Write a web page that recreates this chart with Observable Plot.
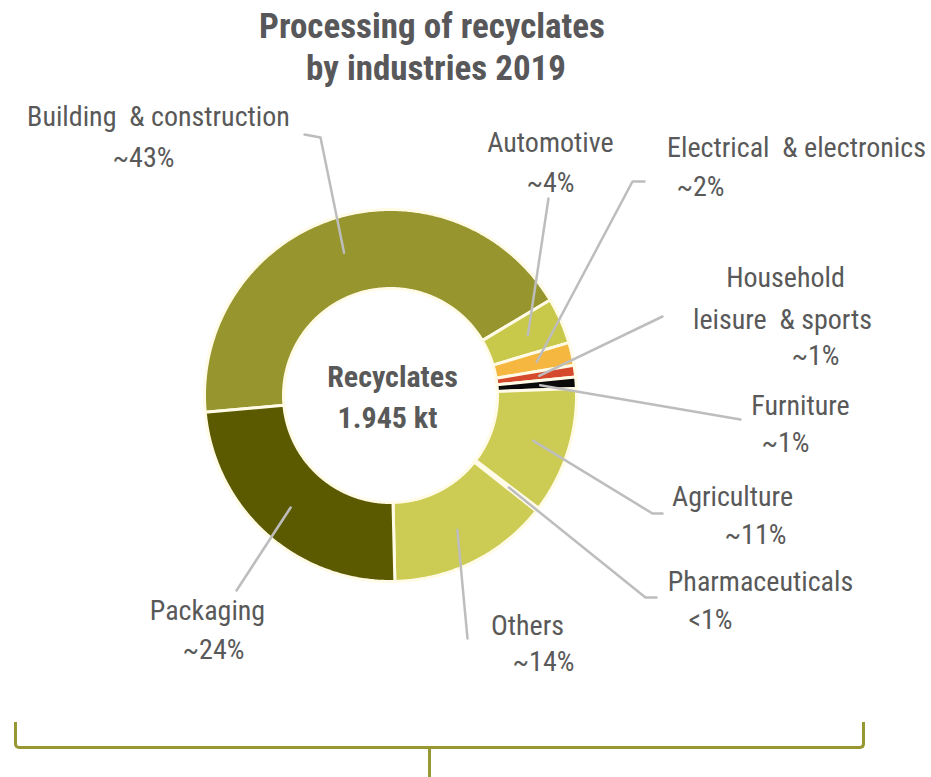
<!DOCTYPE html>
<html>
<head>
<meta charset="utf-8">
<script src="https://cdn.jsdelivr.net/npm/d3@7"></script>
<script src="https://cdn.jsdelivr.net/npm/@observablehq/plot@0.6"></script>
<style>
  html, body { margin: 0; padding: 0; background: #fff; }
  #wrap { position: relative; width: 931px; height: 777px; overflow: hidden; font-family: "Liberation Sans Narrow", "Arial Narrow", "Roboto Condensed", sans-serif; }
  #title { position: absolute; left: 0; top: 6px; width: 864px; text-align: center; font-size: 35px; font-weight: bold; line-height: 42px; color: #58585a; }
  #chart { position: absolute; left: 0; top: 92px; }
  #bracket { position: absolute; left: 14px; top: 722px; width: 845px; height: 24px; border: 3px solid #989832; border-top: none; border-radius: 0 0 5px 5px; }
  #stem { position: absolute; left: 428px; top: 749px; width: 3px; height: 28px; background: #989832; }
</style>
</head>
<body>
<div id="wrap">
  <div id="title">Processing of recyclates<br>&nbsp;by industries 2019</div>
  <div id="chart"></div>
  <div id="bracket"></div>
  <div id="stem"></div>
</div>
<script>
// ---- data ----
const categories = ["Building & construction", "Automotive", "Electrical & electronics", "Household leisure & sports", "Furniture", "Agriculture", "Pharmaceuticals", "Others", "Packaging"];
const shares = [43, 4, 2, 1, 1, 11, 0.3, 14, 24];
const shareLabels = ["~43%", "~4%", "~2%", "~1%", "~1%", "~11%", "<1%", "~14%", "~24%"];
const nameLines = [["Building  & construction"], ["Automotive"], ["Electrical  & electronics"], ["Household", "leisure  & sports"], ["Furniture"], ["Agriculture"], ["Pharmaceuticals"], ["Others"], ["Packaging"]];
const colors = ["#97952e", "#c8c84a", "#f5b73f", "#d54a2c", "#0a0a0a", "#cccc55", "#f6f4e0", "#cccc55", "#5c5a00"];
const centerLines = ["Recyclates", "1.945 kt"];

// ---- layout (page pixel positions; center of donut at 390,395) ----
const CX = 390, CY = 395, R_OUT = 186, R_IN = 107, R_LEAD = 150;
const START_ANGLE = 264.8;
const labelPos = [
  [[158, 117], [143, 158]],
  [[550, 143], [550, 183]],
  [[796, 148], [700, 187]],
  [[785, 278], [782, 320], [815, 356]],
  [[800, 406], [785, 443]],
  [[732, 497], [755, 535]],
  [[760, 582], [710, 620]],
  [[527, 626], [543, 662]],
  [[207, 611], [213, 650]]
];
const leaderEnds = [
  [[320, 137], [304, 134]],
  [[548, 198]],
  [[632, 181], [644, 181]],
  [[662, 316]],
  [[740, 419]],
  [[652, 513], [662, 513]],
  [[645, 597], [656, 597]],
  [[467, 638]],
  [[236, 590]]
];
const centerPos = [[392, 377], [387, 418]];

// ---- build geometry from data ----
const total = d3.sum(shares);
const toX = px => px - CX, toY = py => CY - py;
const rad = a => a * Math.PI / 180;
let acc = START_ANGLE;
const slices = categories.map((c, i) => {
  const a0 = acc, a1 = acc + shares[i] / total * 360;
  acc = a1;
  return {c, i, a0, a1, mid: (a0 + a1) / 2};
});
const ringPts = [];
for (const s of slices) {
  const n = Math.max(2, Math.ceil((s.a1 - s.a0) / 0.5));
  const pts = [];
  for (let k = 0; k <= n; k++) { const a = s.a0 + (s.a1 - s.a0) * k / n; pts.push([R_OUT * Math.sin(rad(a)), R_OUT * Math.cos(rad(a))]); }
  for (let k = n; k >= 0; k--) { const a = s.a0 + (s.a1 - s.a0) * k / n; pts.push([R_IN * Math.sin(rad(a)), R_IN * Math.cos(rad(a))]); }
  pts.push(pts[0]);
  for (const p of pts) ringPts.push({cat: s.c, x: p[0], y: p[1], color: colors[s.i]});
}
const leaderPts = [];
slices.forEach((s, i) => {
  leaderPts.push({cat: s.c, x: R_LEAD * Math.sin(rad(s.mid)), y: R_LEAD * Math.cos(rad(s.mid))});
  for (const p of leaderEnds[i]) leaderPts.push({cat: s.c, x: toX(p[0]), y: toY(p[1])});
});
const labelRows = [];
categories.forEach((c, i) => {
  const lines = [...nameLines[i], shareLabels[i]];
  lines.forEach((t, j) => labelRows.push({text: t, x: toX(labelPos[i][j][0]), y: toY(labelPos[i][j][1])}));
});
const centerRows = centerLines.map((t, j) => ({text: t, x: toX(centerPos[j][0]), y: toY(centerPos[j][1])}));

const FONT = "Liberation Sans Narrow, Arial Narrow, Roboto Condensed, sans-serif";
const H = 625;
const chart = Plot.plot({
  width: 931, height: H, margin: 0,
  x: {domain: [-CX, 931 - CX], range: [0, 931], axis: null},
  y: {domain: [-(717 - CY), CY - 92], range: [H, 0], axis: null},
  style: {background: "transparent", overflow: "visible"},
  marks: [
    Plot.line(ringPts, {x: "x", y: "y", z: "cat", fill: "color", stroke: "#fffbe6", strokeWidth: 3, strokeLinejoin: "round"}),
    Plot.line(leaderPts, {x: "x", y: "y", z: "cat", stroke: "#bdbdbd", strokeWidth: 2.5}),
    Plot.text(labelRows, {x: "x", y: "y", text: "text", fontSize: 28, fill: "#595959", fontFamily: FONT}),
    Plot.text(centerRows, {x: "x", y: "y", text: "text", fontSize: 30, fontWeight: "bold", fill: "#595959", fontFamily: FONT})
  ]
});
document.getElementById("chart").appendChild(chart);
</script>
</body>
</html>
